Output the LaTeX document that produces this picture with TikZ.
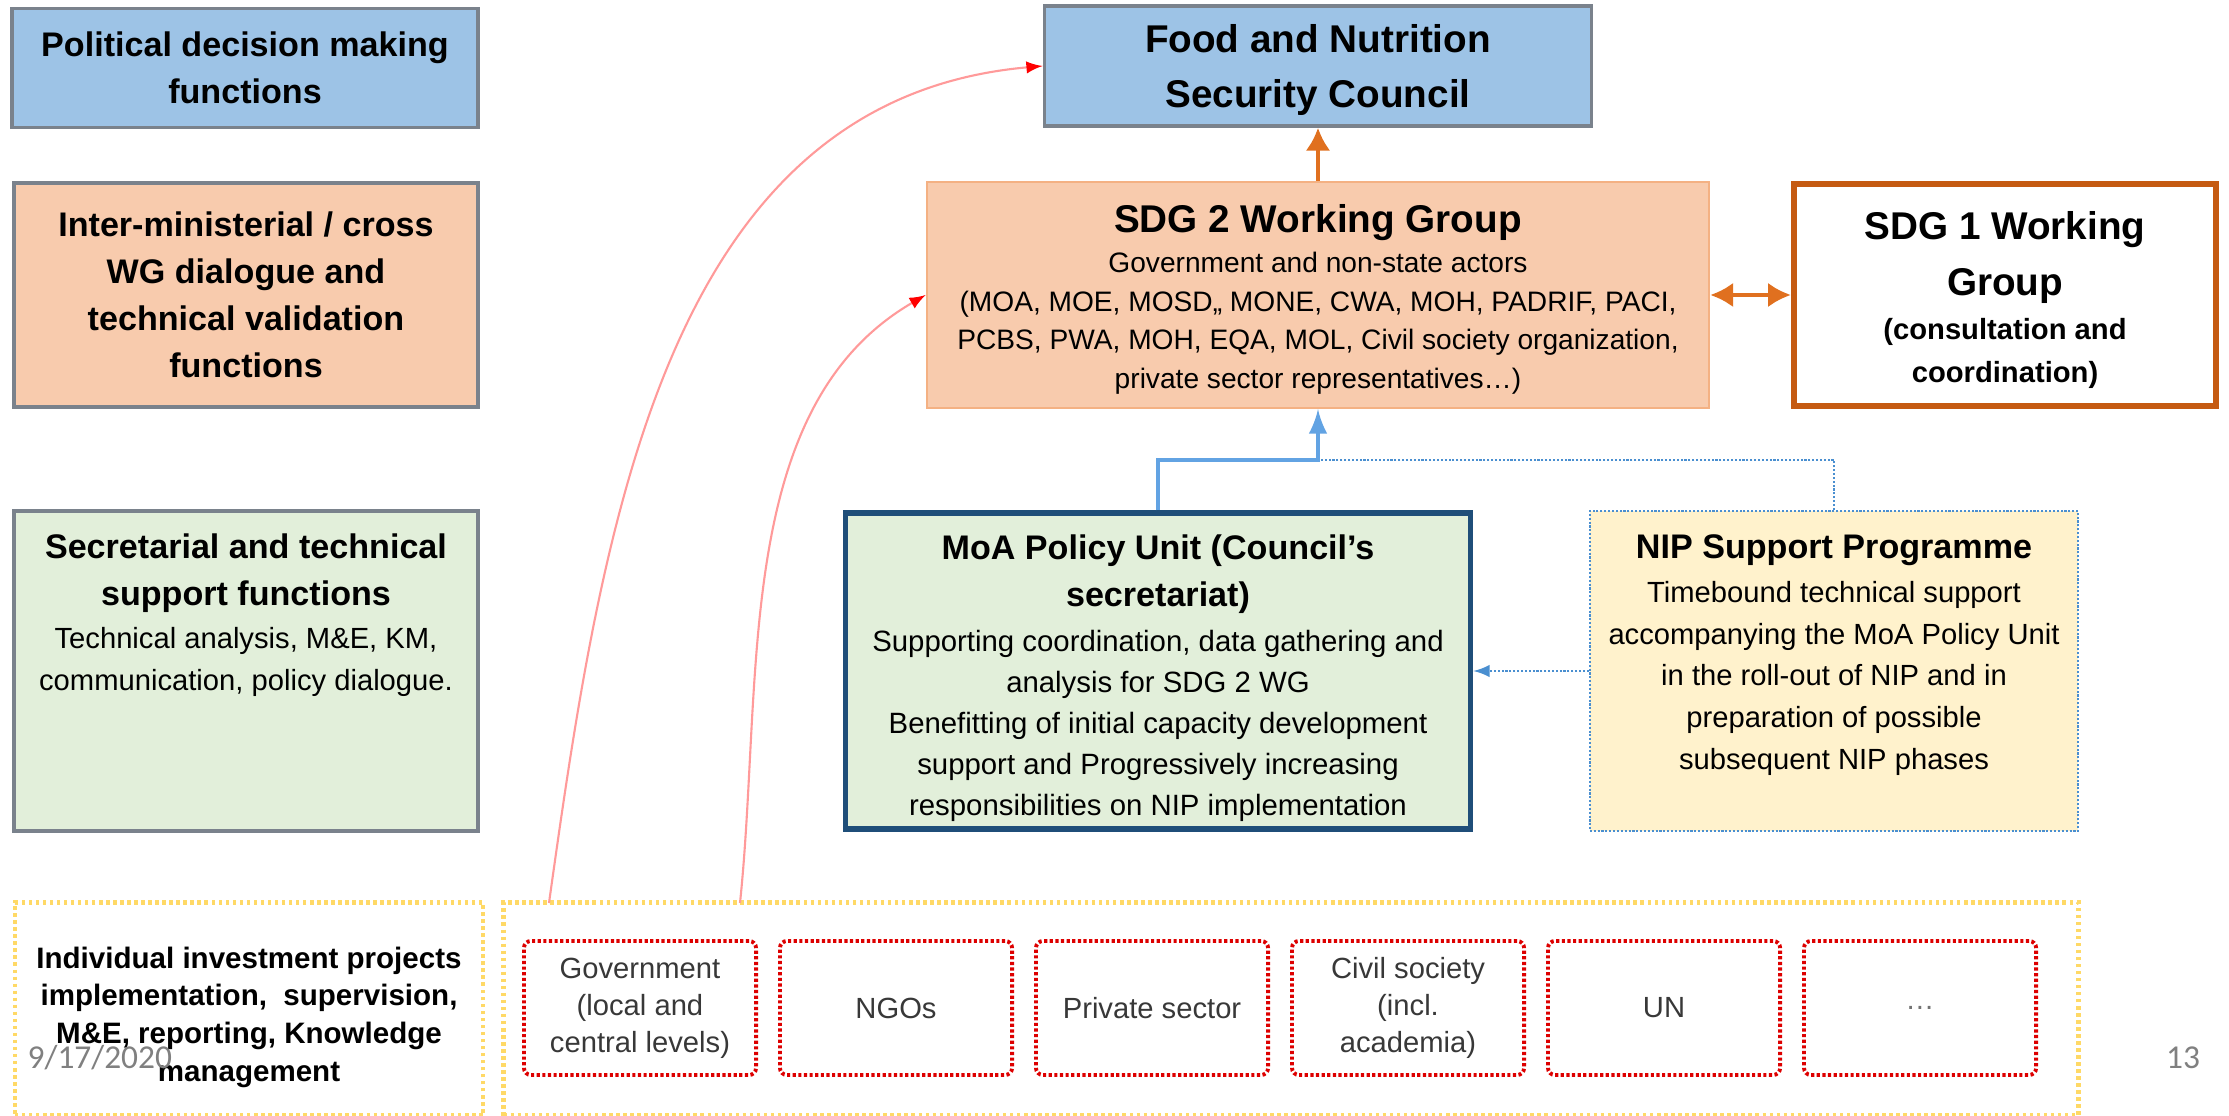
\documentclass[tikz,border=0pt]{standalone}
\usepackage{fontspec}
\setmainfont{Liberation Sans}
\newfontfamily\footfont{Carlito}
\usetikzlibrary{positioning,arrows.meta}
\usepackage{xcolor}

\definecolor{councilblue}{HTML}{9DC3E6}
\definecolor{peach}{HTML}{F8CBAD}
\definecolor{peachline}{HTML}{F4B183}
\definecolor{palegreen}{HTML}{E2EFDA}
\definecolor{paleyellow}{HTML}{FFF2CC}
\definecolor{framegray}{HTML}{7A828C}
\definecolor{rustorange}{HTML}{C55A11}
\definecolor{linkorange}{HTML}{E0701F}
\definecolor{navy}{HTML}{1F4E79}
\definecolor{linkblue}{HTML}{62A3E3}
\definecolor{dotblue}{HTML}{4A8FD0}
\definecolor{dashyellow}{HTML}{FFD966}
\definecolor{dotred}{HTML}{DD0000}
\definecolor{curvepink}{HTML}{FF9A9A}

\begin{document}
\begin{tikzpicture}[x=0.01cm, y=-0.01cm, >=latex,
  sidebox/.style={draw=framegray, line width=1pt, align=center, inner sep=0pt,
                  font=\fontsize{9.7}{13.4}\selectfont\bfseries},
  headtxt/.style={align=center, inner sep=0pt,
                  font=\fontsize{9.7}{13.3}\selectfont\bfseries},
  bigtxt/.style={align=center, inner sep=0pt,
                 font=\fontsize{11}{16}\selectfont\bfseries},
  bodytxt/.style={align=center, inner sep=0pt,
                  font=\fontsize{8.35}{11.7}\selectfont},
  actor/.style={draw=dotred, line width=1.1pt, dash pattern=on 0.9pt off 0.7pt,
                rounded corners=2pt, minimum width=2.32cm, minimum height=1.34cm,
                align=center, inner sep=0pt, font=\fontsize{8.3}{10.5}\selectfont,
                text=black!78},
  yellowdash/.style={draw=dashyellow, line width=1.2pt,
                     dash pattern=on 1pt off 1pt},
  orangearr/.style={draw=linkorange, line width=1.1pt,
                    >={Latex[length=6.5pt, width=7pt]}},
  bluelink/.style={draw=linkblue, line width=1.4pt},
  bluedots/.style={draw=dotblue, line width=0.6pt, dash pattern=on 0.6pt off 0.5pt},
  redcurve/.style={draw=curvepink, line width=0.6pt, -{latex[red]}}]

\useasboundingbox (0,0) rectangle (2229,1116);

% left column: function levels
\node[sidebox, fill=councilblue, minimum width=4.66cm, minimum height=1.19cm]
  (political) at (245,68) {Political decision making\\functions};
\node[sidebox, fill=peach, minimum width=4.64cm, minimum height=2.24cm]
  (interwg) at (246,295) {Inter-ministerial / cross\\WG dialogue and\\technical validation\\functions};
\node[sidebox, fill=palegreen, minimum width=4.64cm, minimum height=3.2cm]
  (secretarial) at (246,671) {};
\node[headtxt, below=0.24cm of secretarial.north] (secrtitle)
  {Secretarial and technical\\support functions};
\node[bodytxt, font=\fontsize{8.3}{11.9}\selectfont, below=0.14cm of secrtitle]
  {Technical analysis, M\&E, KM,\\communication, policy dialogue.};

% bottom row: implementation level
\node[yellowdash, minimum width=4.68cm, minimum height=2.13cm] (projects) at (249,1009) {};
\node[align=center, inner sep=0pt, font=\fontsize{8.4}{10.7}\selectfont\bfseries]
  (projtext) at ([yshift=-0.08cm]projects.center)
  {Individual investment projects\\implementation,~~supervision,\\M\&E, reporting, Knowledge\\management};
\node[yellowdash, minimum width=15.74cm, minimum height=2.13cm] (actors) at (1291,1009) {};

\node[actor] (gov) at (640,1008) {Government\\(local and\\central levels)};
\node[actor, right=0.2cm of gov] (ngo) {NGOs};
\node[actor, right=0.2cm of ngo] (private) {Private sector};
\node[actor, right=0.2cm of private] (civil) {Civil society\\(incl.\\academia)};
\node[actor, right=0.2cm of civil] (un) {UN};
\node[actor, right=0.2cm of un, text=black!55] (more) {\ldots};

% council and working groups
\node[draw=framegray, line width=1pt, fill=councilblue, minimum width=5.47cm, minimum height=1.2cm]
  (council) at (1318,66) {};
\node[align=center, inner sep=0pt, font=\fontsize{11}{15.4}\selectfont\bfseries]
  (counciltext) at ([yshift=-0.04cm]council.center) {Food and Nutrition\\Security Council};

\node[draw=peachline, line width=0.6pt, fill=peach, minimum width=7.82cm, minimum height=2.26cm]
  (sdg2) at (1318,295) {};
\node[bigtxt, below=0.23cm of sdg2.north] (sdg2title) {SDG 2 Working Group};
\node[bodytxt, font=\fontsize{8}{11}\selectfont, below=0.1cm of sdg2title]
  {Government and non-state actors\\
   (MOA, MOE, MOSD,, MONE, CWA, MOH, PADRIF, PACI,\\
   PCBS, PWA, MOH, EQA, MOL, Civil society organization,\\
   private sector representatives\ldots)};

\node[draw=rustorange, line width=1.7pt, fill=white, minimum width=4.22cm, minimum height=2.22cm]
  (sdg1) at (2005,295) {};
\node[bigtxt, below=0.3cm of sdg1.north] (sdg1title) {SDG 1 Working\\Group};
\node[bodytxt, font=\fontsize{8.3}{12.3}\selectfont\bfseries, below=0.13cm of sdg1title]
  {(consultation and\\coordination)};

% secretariat and support programme
\node[draw=navy, line width=1.5pt, fill=palegreen, minimum width=6.25cm, minimum height=3.16cm]
  (moa) at (1158,671) {};
\node[headtxt, below=0.24cm of moa.north] (moatitle) {MoA Policy Unit (Council’s\\secretariat)};
\node[bodytxt, below=0.15cm of moatitle]
  {Supporting coordination, data gathering and\\
   analysis for SDG 2 WG\\
   Benefitting of initial capacity development\\
   support and Progressively increasing\\
   responsibilities on NIP implementation};

\node[bluedots, fill=paleyellow, minimum width=4.88cm, minimum height=3.2cm] (nip) at (1834,671) {};
\node[headtxt, below=0.24cm of nip.north] (niptitle) {NIP Support Programme};
\node[bodytxt, font=\fontsize{8.3}{11.9}\selectfont, below=0.14cm of niptitle]
  {Timebound technical support\\accompanying the MoA Policy Unit\\in the roll-out of NIP and in\\preparation of possible\\subsequent NIP phases};

% links
\draw[orangearr, ->] (sdg2.north) -- (council.south);
\draw[orangearr, <->] (sdg2.east) -- (sdg1.west);

\coordinate (merge) at (1318,460);
\draw[bluedots] (nip.north) |- (merge);
\draw[bluelink, ->] (moa.north) |- (merge) -- (sdg2.south);
\draw[bluedots, ->] (nip.west) -- (moa.east);

\coordinate (srcA) at (549,903);
\coordinate (srcB) at (740,903);
\draw[redcurve] (srcA) to[out=82, in=185] (council.west);
\draw[redcurve] (srcB) to[out=84, in=210, looseness=0.9] (sdg2.west);

% slide footer
\node[font=\footfont\fontsize{9.5}{11}\selectfont, text=black!50, anchor=west, inner sep=0pt]
  (date) at (27,1058) {9/17/2020};
\node[font=\footfont\fontsize{9.5}{11}\selectfont, text=black!50, inner sep=0pt]
  (page) at (2183,1058) {13};
\end{tikzpicture}
\end{document}
